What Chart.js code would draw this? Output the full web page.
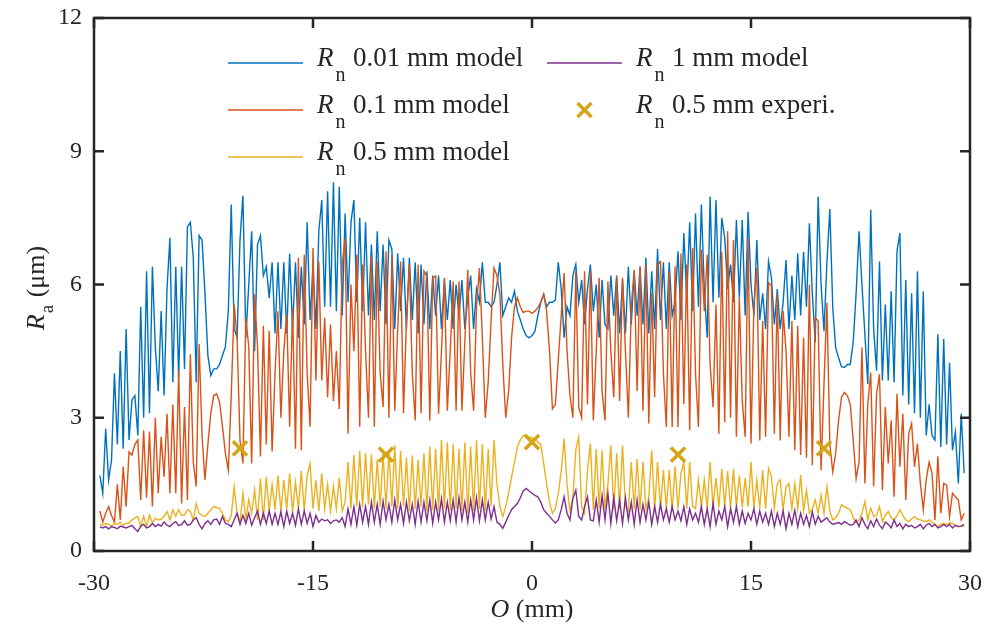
<!DOCTYPE html>
<html>
<head>
<meta charset="utf-8">
<script src="https://cdn.jsdelivr.net/npm/chart.js@4.4.1/dist/chart.umd.min.js"></script>
<style>
html,body{margin:0;padding:0;background:#fff;}
canvas{display:block;}
</style>
</head>
<body>
<canvas id="c" width="989" height="630"></canvas>
<script>
// ---- sampling grid of the model curves (mm) ----
const X_START = -29.6;
const X_STEP = 0.2;

// ---- R_n 0.01 mm model ----
const blueRa = [
1.7,1.3,2.75,1.6,2.05,4.0,2.4,4.5,2.3,5.0,
2.5,3.4,3.5,2.6,5.5,3.0,6.3,3.1,6.4,4.6,
3.6,5.4,3.5,5.9,7.05,3.8,6.4,3.9,6.4,4.1,
7.3,7.4,6.6,3.8,7.1,7.0,5.8,4.4,3.95,4.1,
4.1,4.2,4.4,4.6,5.4,7.8,5.0,4.8,7.0,8.0,
4.8,6.0,7.2,4.5,6.9,7.1,6.2,6.4,5.7,6.5,
4.9,6.5,5.0,6.5,4.9,6.7,5.0,6.5,4.8,6.4,
5.1,7.4,5.2,6.4,5.0,7.2,7.9,5.5,8.1,5.5,
8.3,5.4,8.2,5.3,7.6,5.6,7.4,7.9,5.6,7.5,
5.4,7.4,5.3,6.9,5.2,7.2,5.4,6.9,5.1,7.0,
6.8,5.0,6.7,5.4,6.6,5.0,6.6,5.2,6.5,4.9,
6.45,5.1,6.3,5.0,6.2,5.3,6.2,5.0,6.1,5.2,
6.1,5.0,6.0,5.3,6.1,5.0,5.7,6.2,5.0,5.9,
5.6,6.5,5.6,5.6,5.5,5.6,6.0,6.5,5.3,5.5,
5.7,5.6,5.85,5.4,5.2,5.0,4.85,4.8,4.85,4.95,
5.3,5.6,5.78,5.5,5.6,5.6,5.65,6.5,5.9,4.8,
5.5,5.3,6.2,6.45,5.6,6.1,5.1,5.9,6.45,5.4,
6.0,4.8,6.1,5.1,5.0,6.2,5.3,6.2,4.9,6.1,
4.9,6.4,5.1,6.3,5.3,6.4,5.1,6.6,4.9,6.3,
5.0,6.8,5.2,6.5,5.0,6.5,5.3,5.6,6.75,5.2,
7.16,5.7,7.4,5.4,7.6,5.5,7.8,5.9,4.8,7.98,
5.6,7.9,5.7,7.5,7.05,5.9,6.45,5.6,7.45,5.7,
7.45,5.3,7.64,6.0,5.3,7.0,5.2,5.8,5.0,6.52,
6.15,5.1,5.9,5.0,5.6,6.55,5.0,6.2,5.2,6.7,
5.3,6.73,5.5,7.38,5.8,4.7,7.98,6.0,4.95,6.5,
7.7,5.48,4.58,4.35,4.15,4.13,4.2,4.2,4.7,5.8,
7.2,6.0,4.88,3.76,7.68,5.0,4.06,6.52,3.84,5.55,
3.84,5.85,3.8,6.75,7.16,3.5,6.1,3.3,5.8,3.1,
6.3,3.0,5.85,2.6,3.3,2.6,2.5,4.88,2.34,4.77,
2.4,4.24,2.27,2.68,1.52,3.09,1.75
];

// ---- R_n 0.1 mm model ----
const orangeRa = [
0.9,0.65,0.85,1.0,0.8,0.65,1.5,0.7,1.9,1.0,
2.23,2.16,2.4,2.5,1.15,2.72,1.2,2.69,1.0,3.0,
1.3,2.57,1.67,3.09,1.3,3.3,1.3,4.06,1.07,3.24,
1.15,4.43,2.0,1.45,4.66,2.6,1.6,2.4,3.1,3.5,
3.54,3.35,2.8,2.2,1.82,3.5,5.55,4.8,2.49,1.97,
5.25,4.6,1.97,5.78,4.6,2.13,5.07,2.4,4.96,2.24,
4.0,5.4,3.0,4.5,5.33,2.8,5.48,2.3,6.6,2.27,
6.67,4.0,2.8,6.82,3.84,6.52,3.84,5.25,3.46,5.1,
3.38,4.5,3.2,6.45,7.04,2.64,6.0,4.5,6.67,2.8,
6.45,4.5,3.0,6.63,2.8,6.52,4.0,3.24,6.75,3.0,
6.67,3.16,5.0,6.52,3.1,5.2,6.45,4.0,2.94,6.45,
3.1,6.3,6.18,2.94,6.15,6.19,3.09,4.5,6.15,3.16,
4.5,6.07,3.16,6.07,3.16,4.7,6.33,4.0,3.16,5.5,
6.37,4.8,3.0,3.8,5.2,6.37,6.2,5.78,4.2,3.0,
3.6,4.8,5.5,5.7,5.5,5.37,5.4,5.4,5.35,5.4,
5.48,5.6,5.78,5.4,4.5,3.2,3.3,4.3,5.3,6.26,
4.5,3.5,3.0,6.3,3.24,3.0,6.3,3.3,6.3,2.94,
4.5,6.15,3.6,2.94,6.07,4.5,3.46,6.18,3.38,6.15,
4.5,3.0,5.5,6.33,3.6,6.41,3.16,6.45,2.87,5.81,
3.46,6.45,6.52,4.0,2.79,6.3,2.79,6.41,2.79,6.7,
3.31,6.45,2.72,6.82,4.0,2.79,6.78,5.4,6.67,4.2,
3.24,5.55,2.64,6.74,2.9,7.2,3.0,7.0,2.57,5.7,
3.38,2.57,7.04,2.42,5.55,6.37,2.49,5.18,2.57,6.04,
5.97,2.64,5.78,2.49,5.4,4.5,2.57,5.18,2.27,5.07,
2.16,4.8,2.1,6.0,1.93,5.25,5.18,1.82,3.76,5.59,
2.4,1.78,2.2,2.95,3.46,3.57,3.5,3.3,2.5,1.63,
2.0,4.58,1.52,3.31,4.02,1.45,3.54,3.98,1.37,3.24,
1.97,2.94,1.22,3.54,1.9,3.09,1.15,2.64,2.87,1.9,
2.42,1.52,0.93,1.6,2.0,1.75,0.7,2.13,0.85,1.52,
1.48,0.78,1.3,1.22,1.15,0.7,0.85
];

// ---- R_n 0.5 mm model ----
const yellowRa = [
0.6,0.58,0.62,0.6,0.57,0.62,0.6,0.65,0.58,0.62,
0.63,0.7,0.74,0.78,0.55,0.78,0.55,0.81,0.63,0.74,
0.7,0.72,0.78,0.89,0.7,0.93,0.78,0.93,0.8,0.81,
0.93,0.89,0.7,1.07,0.85,0.8,0.78,0.85,0.93,1.0,
0.98,0.96,0.85,0.7,0.66,0.8,1.45,0.85,0.63,1.3,
0.7,1.15,0.85,1.37,0.7,1.63,0.7,1.67,0.9,1.5,
0.93,1.7,0.9,1.6,0.95,1.75,0.88,1.55,0.95,1.8,
0.9,1.7,1.97,0.95,1.6,0.9,1.75,0.95,1.5,0.9,
1.45,0.95,1.65,0.9,1.1,2.0,0.95,2.16,1.0,2.25,
0.98,2.2,1.05,2.18,0.95,2.06,1.0,2.2,0.95,2.25,
1.0,2.38,0.95,2.25,1.0,2.1,0.9,2.15,0.95,2.05,
1.0,2.2,0.9,2.35,0.93,2.3,0.9,2.5,0.95,2.45,
0.9,2.4,0.95,2.3,0.9,2.45,0.85,2.35,0.9,2.5,
0.95,2.4,0.9,2.3,1.0,2.5,1.5,1.0,0.78,1.0,
1.3,1.67,2.0,2.35,2.5,2.6,2.6,2.57,2.55,2.5,
2.45,2.4,1.97,1.5,1.1,0.85,0.95,1.3,1.8,2.53,
1.5,0.9,1.2,2.27,2.57,1.0,0.85,1.8,2.42,0.93,
2.3,0.95,2.27,0.95,1.5,2.38,0.93,2.2,0.95,2.38,
1.0,0.9,2.0,0.95,2.07,0.93,2.0,0.95,1.2,2.27,
0.93,2.0,0.95,1.82,0.95,1.82,0.9,1.9,0.95,1.75,
2.0,0.95,2.0,1.0,0.95,1.6,1.0,1.6,0.95,2.0,
1.0,1.65,0.98,1.85,1.0,1.8,0.95,1.85,1.0,1.7,
0.98,1.65,1.0,2.0,0.95,1.6,0.95,1.82,0.95,1.86,
1.67,0.95,1.52,1.6,0.93,1.45,1.52,0.95,1.52,0.95,
1.71,0.9,1.37,0.85,0.95,1.15,0.85,1.26,0.85,1.45,
0.9,0.7,0.75,0.85,1.04,1.0,0.96,0.93,0.75,0.63,
0.7,0.85,1.11,0.7,0.96,0.78,0.8,1.0,0.66,0.8,
0.89,0.75,0.7,0.8,0.93,0.8,0.7,0.66,0.72,0.78,
0.72,0.7,0.68,0.66,0.7,0.65,0.6,0.55,0.6,0.62,
0.6,0.63,0.62,0.58,0.55,0.56,0.55
];

// ---- R_n 1 mm model ----
const purpleRa = [
0.55,0.52,0.55,0.5,0.55,0.53,0.5,0.56,0.54,0.52,
0.55,0.58,0.5,0.44,0.56,0.6,0.52,0.55,0.62,0.55,
0.6,0.56,0.65,0.58,0.55,0.62,0.66,0.57,0.6,0.68,
0.58,0.6,0.7,0.75,0.6,0.5,0.62,0.68,0.6,0.7,
0.72,0.6,0.78,0.62,0.6,0.55,0.7,0.85,0.6,0.8,
0.62,0.85,0.58,0.75,0.9,0.6,0.85,0.62,0.9,0.6,
0.85,0.6,0.88,0.55,0.9,0.62,0.85,0.58,0.95,0.6,
0.9,0.62,0.85,0.55,0.8,0.65,0.72,0.68,0.7,0.62,
0.68,0.7,0.65,0.75,0.55,0.95,0.6,1.0,0.58,1.05,
0.65,1.0,0.6,1.1,0.65,1.05,0.6,1.12,0.7,1.05,
0.65,1.15,0.7,1.05,0.62,1.1,0.68,1.05,0.6,1.12,
0.65,1.1,0.68,1.15,0.62,1.1,0.7,1.18,0.65,1.1,
0.68,1.15,0.65,1.2,0.7,1.1,0.65,1.15,0.7,1.2,
0.68,1.15,0.7,1.1,0.72,1.0,0.65,0.6,0.51,0.65,
0.8,0.93,1.0,1.07,1.2,1.35,1.41,1.35,1.3,1.25,
1.22,1.1,0.93,0.85,0.78,0.7,0.63,0.7,0.93,1.22,
0.85,0.7,1.18,1.37,0.78,0.7,1.0,1.22,0.7,0.68,
1.15,0.65,1.25,0.7,1.3,0.62,1.2,0.68,1.15,0.62,
1.2,0.7,1.1,0.6,1.15,0.65,1.05,0.7,1.1,0.6,
1.0,0.65,1.05,0.7,0.95,0.65,1.0,0.7,0.9,0.68,
1.0,0.6,0.95,0.7,0.85,0.65,1.0,0.6,0.95,0.55,
1.07,0.6,0.9,0.7,1.0,0.55,0.95,0.65,1.0,0.6,
0.9,0.62,0.85,0.7,0.95,0.6,0.9,0.65,0.85,0.6,
0.9,0.55,0.85,0.6,0.9,0.5,0.85,0.6,0.92,0.55,
0.85,0.6,0.8,0.55,0.88,0.6,0.78,0.65,0.7,0.75,
0.65,0.6,0.62,0.64,0.6,0.66,0.62,0.58,0.6,0.7,
0.55,0.75,0.6,0.5,0.68,0.55,0.72,0.58,0.5,0.65,
0.6,0.52,0.7,0.55,0.62,0.5,0.6,0.55,0.58,0.52,
0.55,0.6,0.5,0.58,0.62,0.55,0.6,0.52,0.55,0.6,
0.55,0.6,0.52,0.58,0.55,0.56,0.6
];

// ---- R_n 0.5 mm experiment ----
const expX = [-20, -10, 0, 10, 20];
const expRa = [2.31, 2.17, 2.45, 2.17, 2.31];

// ---- axes ----
const X_TICKS = [-30, -15, 0, 15, 30];
const Y_TICKS = [0, 3, 6, 9, 12];
const seriesNames = ['0.01 mm model', '0.1 mm model', '0.5 mm model', '1 mm model', '0.5 mm experi.'];
const seriesColors = ['#0072BD', '#D95319', '#EDB120', '#7E2F8E', '#D4A516'];

function toPoints(vals) {
  return vals.map((v, i) => ({ x: +(X_START + i * X_STEP).toFixed(2), y: v }));
}

const FONT = '"Liberation Serif", "Times New Roman", serif';
const INK = '#262626';

const axesPlugin = {
  id: 'matlabAxes',
  afterDatasetsDraw(chart) {
    const { ctx, chartArea: a, scales } = chart;
    const xs = scales.x, ys = scales.y;
    ctx.save();
    ctx.strokeStyle = INK;
    ctx.lineWidth = 2.5;
    ctx.lineCap = 'butt';
    const L = 10;
    ctx.beginPath();
    X_TICKS.forEach(v => {
      const px = xs.getPixelForValue(v);
      ctx.moveTo(px, a.bottom); ctx.lineTo(px, a.bottom - L);
      ctx.moveTo(px, a.top); ctx.lineTo(px, a.top + L);
    });
    Y_TICKS.forEach(v => {
      const py = ys.getPixelForValue(v);
      ctx.moveTo(a.left, py); ctx.lineTo(a.left + L, py);
      ctx.moveTo(a.right, py); ctx.lineTo(a.right - L, py);
    });
    ctx.stroke();
    ctx.strokeRect(a.left, a.top, a.right - a.left, a.bottom - a.top);
    ctx.restore();
  },
  afterDraw(chart) {
    const { ctx, chartArea: a } = chart;
    ctx.save();
    ctx.fillStyle = INK;
    ctx.textBaseline = 'alphabetic';
    ctx.textAlign = 'left';

    // x axis title: O (mm)
    ctx.font = 'italic 26px ' + FONT;
    const wO = ctx.measureText('O').width;
    ctx.font = '26px ' + FONT;
    const wRest = ctx.measureText(' (mm)').width;
    const cx = (a.left + a.right) / 2;
    let sx = cx - (wO + wRest) / 2;
    ctx.font = 'italic 26px ' + FONT;
    ctx.fillText('O', sx, 617);
    ctx.font = '26px ' + FONT;
    ctx.fillText(' (mm)', sx + wO, 617);

    // y axis title: R_a (μm)
    ctx.save();
    ctx.translate(44, 288);
    ctx.rotate(-Math.PI / 2);
    ctx.font = 'italic 26px ' + FONT;
    const wR = ctx.measureText('R').width;
    ctx.font = '19px ' + FONT;
    const wa = ctx.measureText('a').width;
    ctx.font = '26px ' + FONT;
    const wu = ctx.measureText(' (\u03bcm)').width;
    let s = -(wR + wa + 2 + wu) / 2;
    ctx.font = 'italic 26px ' + FONT;
    ctx.fillText('R', s, 0);
    ctx.font = '19px ' + FONT;
    ctx.fillText('a', s + wR + 1, 9);
    ctx.font = '26px ' + FONT;
    ctx.fillText(' (\u03bcm)', s + wR + wa + 2, 0);
    ctx.restore();

    // legend
    const cols = [228, 547];
    const rows = [63, 110, 157];
    const slots = [[0, 0], [0, 1], [0, 2], [1, 0], [1, 1]];
    slots.forEach((sl, i) => {
      const lx = cols[sl[0]], ly = rows[sl[1]];
      if (i < 4) {
        ctx.strokeStyle = seriesColors[i];
        ctx.lineWidth = 1.6;
        ctx.beginPath();
        ctx.moveTo(lx, ly); ctx.lineTo(lx + 75, ly);
        ctx.stroke();
      } else {
        const mx = lx + 37.5, r = 7;
        ctx.strokeStyle = seriesColors[i];
        ctx.lineWidth = 3.5;
        ctx.beginPath();
        ctx.moveTo(mx - r, ly - r); ctx.lineTo(mx + r, ly + r);
        ctx.moveTo(mx + r, ly - r); ctx.lineTo(mx - r, ly + r);
        ctx.stroke();
      }
      const tx = lx + 89, base = ly + 3;
      ctx.fillStyle = INK;
      ctx.font = 'italic 27px ' + FONT;
      ctx.fillText('R', tx, base);
      const w = ctx.measureText('R').width;
      ctx.font = '20px ' + FONT;
      ctx.fillText('n', tx + w + 2, base + 15);
      ctx.font = '27px ' + FONT;
      ctx.fillText(seriesNames[i], tx + 36, base);
    });
    ctx.restore();
  }
};

const lineDs = (vals, color, name, order) => ({
  label: 'Rn ' + name,
  data: toPoints(vals),
  borderColor: color,
  backgroundColor: color,
  borderWidth: 1.4,
  pointRadius: 0,
  tension: 0,
  fill: false,
  order: order
});

const noPad = s => { s.paddingLeft = 0; s.paddingRight = 0; s.paddingTop = 0; s.paddingBottom = 0; };

new Chart(document.getElementById('c'), {
  type: 'line',
  data: {
    datasets: [
      {
        label: 'Rn ' + seriesNames[4],
        data: expX.map((x, i) => ({ x: x, y: expRa[i] })),
        showLine: false,
        pointStyle: 'crossRot',
        pointRadius: 10,
        pointBorderWidth: 3.5,
        borderColor: seriesColors[4],
        backgroundColor: seriesColors[4],
        order: 0
      },
      lineDs(purpleRa, seriesColors[3], seriesNames[3], 1),
      lineDs(yellowRa, seriesColors[2], seriesNames[2], 2),
      lineDs(orangeRa, seriesColors[1], seriesNames[1], 3),
      lineDs(blueRa, seriesColors[0], seriesNames[0], 4)
    ]
  },
  options: {
    responsive: false,
    devicePixelRatio: 1,
    animation: false,
    events: [],
    layout: { padding: { top: 18, right: 19, left: 0, bottom: 0 } },
    plugins: { legend: { display: false }, tooltip: { enabled: false } },
    scales: {
      x: {
        type: 'linear',
        min: -30, max: 30,
        afterBuildTicks: s => { s.ticks = X_TICKS.map(v => ({ value: v })); },
        ticks: { font: { family: FONT, size: 24 }, color: INK, padding: 18, maxRotation: 0, callback: v => String(v) },
        grid: { display: false, drawTicks: false },
        border: { display: false },
        afterFit: s => { s.height = 79; noPad(s); }
      },
      y: {
        type: 'linear',
        min: 0, max: 12,
        afterBuildTicks: s => { s.ticks = Y_TICKS.map(v => ({ value: v })); },
        ticks: { font: { family: FONT, size: 24 }, color: INK, padding: 12, callback: v => String(v) },
        grid: { display: false, drawTicks: false },
        border: { display: false },
        afterFit: s => { s.width = 94; noPad(s); }
      }
    }
  },
  plugins: [axesPlugin]
});
</script>
</body>
</html>
